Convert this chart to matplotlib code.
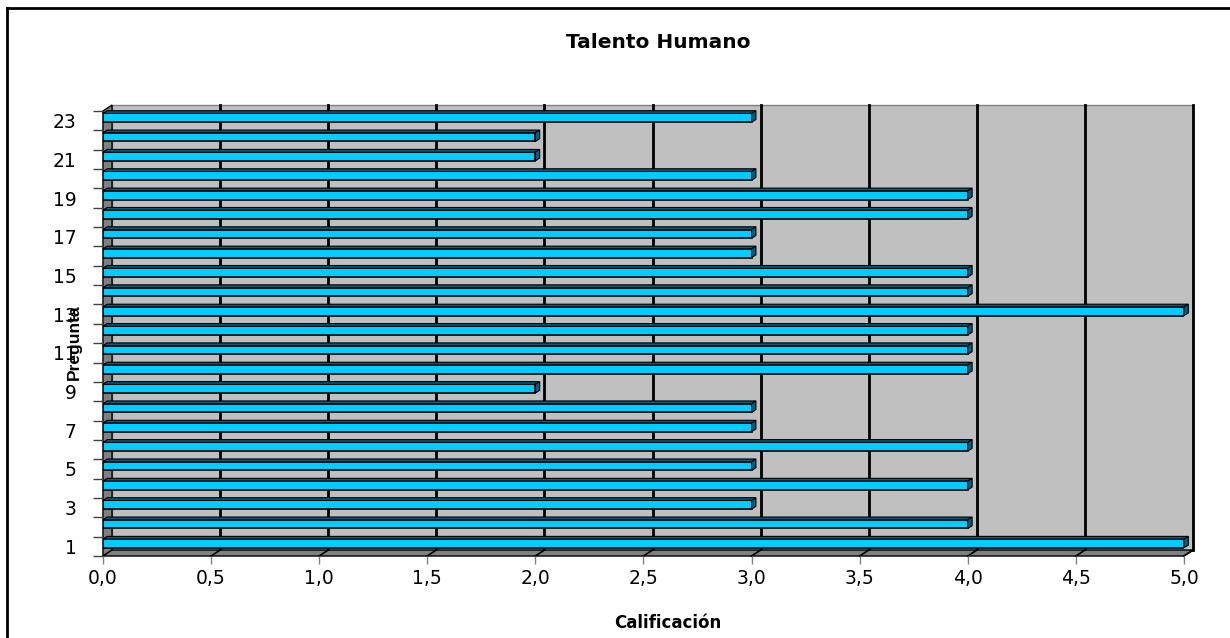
import numpy as np
import matplotlib.pyplot as plt
from matplotlib.patches import Polygon, Rectangle
from matplotlib.lines import Line2D

preguntas = list(range(1, 24))
calificacion = [5, 4, 3, 4, 3, 4, 3, 3, 2, 4, 4, 4, 5, 4, 4, 3, 3, 4, 4, 3, 2, 2, 3]
xticks = [0.0, 0.5, 1.0, 1.5, 2.0, 2.5, 3.0, 3.5, 4.0, 4.5, 5.0]
xlabels = [f"{v:.1f}".replace(".", ",") for v in xticks]

plt.rcParams['font.family'] = ['DejaVu Sans']

fig = plt.figure(figsize=(12.3, 6.38), dpi=100)
ax = fig.add_axes([0.0837, 0.1285, 0.8789, 0.6975])

xmin, xmax = 0, 5
ymin, ymax = 0.5, len(preguntas) + 0.5
dx, dy = 0.042, 0.31  # profundidad del efecto 3D

ax.set_xlim(xmin, xmax)
ax.set_ylim(ymin, ymax)
ax.set_facecolor('none')
for s in ax.spines.values():
    s.set_visible(False)

# pared de fondo
ax.add_patch(Rectangle((xmin + dx, ymin + dy), xmax - xmin, ymax - ymin,
                       facecolor='#C0C0C0', edgecolor='#808080', lw=1, zorder=0, clip_on=False))
# pared izquierda
ax.add_patch(Polygon([(xmin, ymin), (xmin + dx, ymin + dy), (xmin + dx, ymax + dy), (xmin, ymax)],
                     closed=True, facecolor='#808080', edgecolor='black', lw=1, zorder=1, clip_on=False))
# piso
ax.add_patch(Polygon([(xmin, ymin), (xmax, ymin), (xmax + dx, ymin + dy), (xmin + dx, ymin + dy)],
                     closed=True, facecolor='#808080', edgecolor='black', lw=1, zorder=1, clip_on=False))

# lineas de cuadricula
for v in xticks[1:]:
    ax.plot([v + dx, v + dx], [ymin + dy, ymax + dy], color='black', lw=2, zorder=0.5, clip_on=False)
    ax.plot([v, v + dx], [ymin, ymin + dy], color='black', lw=1.2, zorder=1.5, clip_on=False)

# barras
h = 0.45
off = 0.15
cdx, cdy = 0.02, 0.14
for p, val in zip(preguntas, calificacion):
    yc = p + off
    ax.barh(yc, val, height=h, left=0, color='#00CCFF', edgecolor='black', lw=1.2, zorder=3)
    ax.add_patch(Polygon([(0, yc + h / 2), (val, yc + h / 2), (val + cdx, yc + h / 2 + cdy), (cdx, yc + h / 2 + cdy)],
                         closed=True, facecolor='#006080', edgecolor='black', lw=0.8, zorder=3, clip_on=False))
    ax.add_patch(Polygon([(val, yc - h / 2), (val, yc + h / 2), (val + cdx, yc + h / 2 + cdy), (val + cdx, yc - h / 2 + cdy)],
                         closed=True, facecolor='#006080', edgecolor='black', lw=0.8, zorder=3, clip_on=False))

ax.set_xticks(xticks)
ax.set_xticklabels(xlabels, fontsize=13.5)
ax.tick_params(axis='x', length=6, width=1, color='#808080', pad=3)

ax.set_yticks(preguntas[::2])
ax.set_yticklabels([str(p) for p in preguntas[::2]], fontsize=13.5)
ax.set_yticks(np.arange(ymin, ymax + 0.01, 1), minor=True)
ax.tick_params(axis='y', which='major', length=0, pad=19)
ax.tick_params(axis='y', which='minor', length=7, width=1, color='#404040')

fig.text(658 / 1230, 1 - 42 / 638, 'Talento Humano', fontsize=14.5, fontweight='bold',
         ha='center', va='center')
fig.text(668 / 1230, 1 - 623 / 638, 'Calificación', fontsize=12, fontweight='bold',
         ha='center', va='center')
fig.text(74 / 1230, 1 - 342 / 638, 'Pregunta', rotation=90, fontsize=12.5, fontweight='bold',
         family=['Liberation Sans Narrow', 'Liberation Sans', 'DejaVu Sans'],
         ha='center', va='center')

# borde de la figura
fig.add_artist(Line2D([7 / 1230, 7 / 1230], [0, 1 - 8 / 638], color='black', lw=2))
fig.add_artist(Line2D([7 / 1230, 1], [1 - 8 / 638, 1 - 8 / 638], color='black', lw=2))

fig.savefig('out.png', dpi=100)
